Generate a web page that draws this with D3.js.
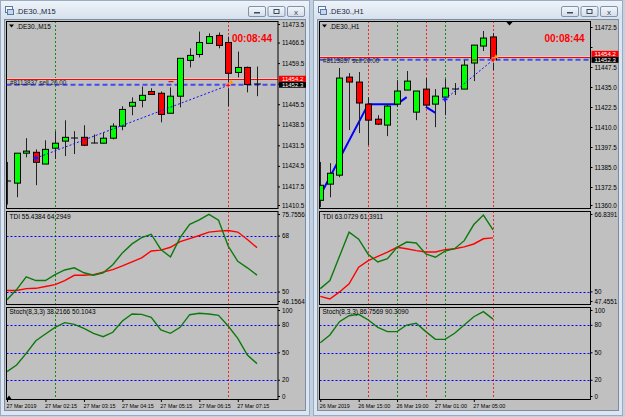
<!DOCTYPE html>
<html>
<head>
<meta charset="utf-8">
<script src="https://cdn.jsdelivr.net/npm/d3@7"></script>
<style>
body { margin: 0; background: #c9d6e6; }
svg { display: block; font-family: "Liberation Sans", Arial, sans-serif; }
</style>
</head>
<body>
<svg id="chart" width="625" height="417"></svg>
<script>
/********** M15 window data **********/
var m15Open  = [11419.5, 11418.8, 11429.0, 11429.3, 11425.3, 11430.7, 11433.1, 11434.1, 11434.4, 11432.4, 11432.4, 11434.1, 11438.2, 11445.0, 11447.0, 11450.0, 11449.4, 11442.6, 11448.4, 11460.6, 11462.6, 11466.4, 11469.1, 11466.7, 11456.5, 11458.2, 11452.5];
var m15High  = [11426.0, 11429.0, 11434.1, 11430.3, 11433.4, 11436.5, 11440.2, 11436.5, 11438.5, 11435.4, 11436.1, 11439.2, 11445.0, 11448.0, 11451.7, 11451.1, 11450.0, 11451.4, 11461.3, 11464.7, 11470.4, 11469.8, 11470.1, 11468.7, 11463.6, 11458.5, 11458.5];
var m15Low   = [11411.5, 11414.0, 11427.6, 11418.1, 11425.3, 11427.0, 11428.0, 11428.7, 11431.4, 11432.4, 11432.4, 11433.7, 11436.8, 11441.9, 11444.6, 11449.0, 11439.5, 11442.6, 11444.6, 11458.2, 11461.6, 11466.4, 11464.7, 11445.0, 11454.8, 11449.7, 11448.4];
var m15Close = [11419.5, 11429.0, 11429.7, 11425.9, 11430.3, 11432.4, 11434.4, 11434.1, 11431.7, 11432.4, 11434.1, 11438.2, 11443.9, 11446.3, 11448.7, 11449.0, 11442.2, 11448.4, 11461.3, 11462.3, 11466.7, 11468.7, 11465.7, 11456.2, 11458.2, 11452.4, 11452.5];
var m15TdiRsi    = [47.5, 50.8, 54.9, 53.7, 53.7, 55.6, 57.1, 57.8, 56.2, 55.4, 56.2, 58.8, 62.6, 65.5, 67.5, 68.6, 63.7, 61.3, 67.5, 71.8, 73.2, 75.0, 73.1, 64.8, 59.9, 57.8, 55.44];
var m15TdiSignal = [50.5, 50.5, 51.1, 51.2, 51.8, 52.4, 53.7, 55.4, 55.4, 55.6, 56.4, 57.2, 58.4, 59.7, 61.0, 63.2, 63.5, 64.4, 66.2, 67.2, 68.2, 69.3, 69.6, 69.8, 69.3, 66.9, 64.29];
var m15Stoch     = [29.4, 36.7, 49.4, 63.2, 70.5, 77.8, 82.9, 81.1, 76.7, 71.3, 67.6, 72.4, 84.7, 92.3, 92.0, 88.7, 74.9, 71.3, 77.8, 91.6, 93.1, 92.3, 90.9, 79.2, 65.8, 47.6, 38.2];
var m15PriceTicks = [11473.5, 11466.5, 11459.5, 11452.5, 11445.5, 11438.5, 11431.5, 11424.5, 11417.5, 11410.5];
var m15TdiTicks   = [75.7556, 68, 50, 46.1564];
var m15TimeIdx    = [0, 4, 8, 12, 16, 20, 24];
var m15TimeText   = ["27 Mar 2019", "27 Mar 02:15", "27 Mar 03:15", "27 Mar 04:15", "27 Mar 05:15", "27 Mar 06:15", "27 Mar 07:15"];
var m15GreenV = [5];
var m15RedV   = [23];
var m15Trade  = [[3, 11427.3], [23, 11452.1]];
var m15SellMark = [17, 11453.4];

/********** H1 window data **********/
var h1Open  = [11364.5, 11374.6, 11380.2, 11441.5, 11438.4, 11424.6, 11415.2, 11411.5, 11424.6, 11433.4, 11419.6, 11434.0, 11424.6, 11429.0, 11434.0, 11434.0, 11450.3, 11460.9, 11466.6];
var h1High  = [11388.5, 11387.7, 11447.2, 11444.0, 11444.7, 11429.0, 11417.7, 11424.6, 11439.6, 11445.3, 11432.8, 11440.9, 11434.0, 11440.3, 11437.8, 11452.2, 11461.5, 11470.3, 11469.1];
var h1Low   = [11360.2, 11366.4, 11378.9, 11408.4, 11406.5, 11399.0, 11411.5, 11404.6, 11422.8, 11433.4, 11414.6, 11422.8, 11410.2, 11417.7, 11430.3, 11434.0, 11439.0, 11457.8, 11445.9];
var h1Close = [11373.9, 11381.4, 11440.9, 11438.4, 11425.3, 11414.6, 11412.1, 11423.4, 11432.8, 11439.0, 11432.8, 11424.0, 11429.6, 11434.6, 11434.0, 11449.0, 11461.5, 11465.9, 11452.3];
var h1TdiRsi    = [50.7, 52.4, 57.5, 62.6, 61.1, 57.9, 56.3, 57.0, 59.4, 60.5, 60.3, 58.0, 57.3, 58.6, 59.1, 60.8, 64.2, 66.2, 63.07];
var h1TdiSignal = [49.05, 48.5, 50.0, 51.7, 55.2, 56.6, 57.5, 58.4, 59.4, 59.1, 58.7, 58.4, 58.4, 58.9, 59.1, 59.5, 60.1, 61.2, 61.39];
var h1Stoch     = [61.0, 69.4, 84.0, 90.5, 92.0, 85.8, 77.8, 73.1, 73.1, 80.3, 82.2, 73.1, 64.7, 64.7, 71.3, 80.3, 89.4, 94.9, 86.76];
var h1PriceTicks = [11472.5, 11460.0, 11447.5, 11435.0, 11422.5, 11410.0, 11397.5, 11385.0, 11372.5, 11360.0];
var h1TdiTicks   = [66.8391, 50, 47.4551];
var h1TimeIdx    = [0, 4, 8, 12, 16];
var h1TimeText   = ["26 Mar 2019", "26 Mar 15:00", "26 Mar 19:00", "27 Mar 01:00", "27 Mar 05:00"];
var h1GreenV = [8, 13];
var h1RedV   = [5, 11, 18];
var h1Trade  = [[13, 11427.6], [18, 11452.2]];
var h1SellMark = [16, 11452.2];
// thick blue section line (broken in two pieces)
var h1BlueIdx = [0, 5, 8, 9, null, 11, 12];
var h1BlueVal = [11367.7, 11424.6, 11424.6, 11429.0, null, 11422.9, 11419.2];

var stochTicks  = [100, 80, 50, 20, 0];
var stochLevels = [80, 50, 20];
var tdiLevels   = [68, 50];
var askPrice = 11454.2, bidPrice = 11452.3;

var svg = d3.select("#chart");
var defs = svg.append("defs");
var grad = defs.append("linearGradient").attr("id", "tbar").attr("x1", 0).attr("y1", 0).attr("x2", 0).attr("y2", 1);
grad.append("stop").attr("offset", "0%").attr("stop-color", "#eef3f9");
grad.append("stop").attr("offset", "100%").attr("stop-color", "#d6e1ee");
var bgrad = defs.append("linearGradient").attr("id", "btn").attr("x1", 0).attr("y1", 0).attr("x2", 0).attr("y2", 1);
bgrad.append("stop").attr("offset", "0%").attr("stop-color", "#f4f7fb");
bgrad.append("stop").attr("offset", "100%").attr("stop-color", "#d3dce8");

svg.append("rect").attr("width", 625).attr("height", 417).attr("fill", "#c3d0e0");

var PANES = {main: [21, 208], tdi: [211, 304], sto: [307, 399]};

function drawWindow(cfg) {
	var g = svg.append("g");
	var wx = cfg.winX, ww = cfg.winW, L = cfg.plotL, R = cfg.plotR;
	var n = cfg.open.length;

	/********** window frame **********/
	g.append("rect").attr("x", wx + 0.5).attr("y", 0.5).attr("width", ww - 1).attr("height", 415)
		.attr("fill", "#dce6f2").attr("stroke", "#9aabc1");
	g.append("rect").attr("x", wx + 1).attr("y", 1).attr("width", ww - 2).attr("height", 18).attr("fill", "url(#tbar)");
	// little window icon
	g.append("rect").attr("x", wx + 5.5).attr("y", 6.5).attr("width", 7).attr("height", 6).attr("fill", "#f5f8fc").attr("stroke", "#5a7aa5");
	g.append("rect").attr("x", wx + 7.5).attr("y", 9.5).attr("width", 6).attr("height", 5).attr("fill", "#c8d8ec").attr("stroke", "#5a7aa5");
	g.append("text").attr("x", wx + 16).attr("y", 14).attr("font-size", 7.5).attr("fill", "#1b2636").text(cfg.title);
	[0, 1, 2].forEach(function (k) {
		var bx = wx + ww - 62 + k * 19.5;
		g.append("rect").attr("x", bx + 0.5).attr("y", 6.5).attr("width", 17).attr("height", 10)
			.attr("rx", 1.5).attr("fill", "url(#btn)").attr("stroke", "#8193ab");
		if (k === 0) g.append("rect").attr("x", bx + 6).attr("y", 12).attr("width", 6).attr("height", 1.5).attr("fill", "#3a4a60");
		if (k === 1) g.append("rect").attr("x", bx + 6.5).attr("y", 9.5).attr("width", 5).attr("height", 4).attr("fill", "none").attr("stroke", "#3a4a60");
		if (k === 2) g.append("text").attr("x", bx + 9).attr("y", 14.5).attr("text-anchor", "middle").attr("font-size", 8).attr("fill", "#3a4a60").text("x");
	});

	// client area
	g.append("rect").attr("x", wx + 4.5).attr("y", 19.5).attr("width", ww - 9).attr("height", 391)
		.attr("fill", "#c0c0c0").attr("stroke", "#7d8ca0");

	/********** scales **********/
	var x = d3.scaleLinear().domain([0, n - 1]).range(cfg.xRange);
	var yMain = d3.scaleLinear().domain(cfg.priceDomain).range([207.5, cfg.priceTopY]);
	var yTdi = d3.scaleLinear().domain(cfg.tdiDomain).range([304, 212]);
	var ySto = d3.scaleLinear().domain([0, 100]).range([398.6, 307]);
	var px = function (i) { return Math.round(x(i)) + 0.5; };

	// panes + clips
	var pane = {};
	Object.keys(PANES).forEach(function (k) {
		var p = PANES[k];
		var id = "clip_" + cfg.key + "_" + k;
		defs.append("clipPath").attr("id", id).append("rect")
			.attr("x", L).attr("y", p[0]).attr("width", R - L).attr("height", p[1] - p[0]);
		pane[k] = g.append("g").attr("clip-path", "url(#" + id + ")");
	});

	// vertical dotted markers across every pane
	Object.keys(PANES).forEach(function (k) {
		var p = PANES[k];
		pane[k].selectAll(null).data(cfg.greenV).enter().append("line")
			.attr("x1", px).attr("x2", px).attr("y1", p[0]).attr("y2", p[1])
			.attr("stroke", "#118a11").attr("stroke-dasharray", "2,2");
		pane[k].selectAll(null).data(cfg.redV).enter().append("line")
			.attr("x1", px).attr("x2", px).attr("y1", p[0]).attr("y2", p[1])
			.attr("stroke", "#f02828").attr("stroke-dasharray", "2,2");
	});

	/********** main price pane **********/
	var mp = pane.main;
	var candles = d3.range(n).map(function (i) {
		return {i: i, o: cfg.open[i], h: cfg.high[i], l: cfg.low[i], c: cfg.close[i]};
	});

	// ask / bid / order lines
	var askY = Math.round(yMain(askPrice));
	mp.append("line").attr("x1", L).attr("x2", R).attr("y1", askY - 0.5).attr("y2", askY - 0.5)
		.attr("stroke", "#f0d0d0").attr("stroke-width", 1);
	mp.append("line").attr("x1", L).attr("x2", R).attr("y1", askY + 0.5).attr("y2", askY + 0.5)
		.attr("stroke", "#ff0000").attr("stroke-width", 1);
	mp.append("line").attr("x1", L).attr("x2", R).attr("y1", yMain(bidPrice)).attr("y2", yMain(bidPrice))
		.attr("stroke", "#4848ee").attr("stroke-width", 2).attr("stroke-dasharray", "5,3");
	mp.append("text").attr("x", L + 3.5).attr("y", askY + 6).attr("font-size", 6.3)
		.attr("fill", "#202020").text("#8113837 sell 20.00");

	if (cfg.blueIdx) {
		var pts = cfg.blueIdx.map(function (d, k) { return [d, cfg.blueVal[k]]; });
		mp.append("path").datum(pts)
			.attr("d", d3.line().defined(function (d) { return d[0] !== null; })
				.x(function (d) { return x(d[0]); }).y(function (d) { return yMain(d[1]); }))
			.attr("fill", "none").attr("stroke", "#0000ff").attr("stroke-width", 2);
	}

	mp.selectAll("line.wick").data(candles).enter().append("line").attr("class", "wick")
		.attr("x1", function (d) { return px(d.i); }).attr("x2", function (d) { return px(d.i); })
		.attr("y1", function (d) { return yMain(d.h); }).attr("y2", function (d) { return yMain(d.l); })
		.attr("stroke", "#222").attr("stroke-width", 1);
	mp.selectAll("rect.body").data(candles).enter().append("rect").attr("class", "body")
		.attr("x", function (d) { return Math.round(x(d.i)) - 3 + 0.5; })
		.attr("width", 6)
		.attr("y", function (d) { return d.o === d.c ? Math.round(yMain(d.o)) : yMain(Math.max(d.o, d.c)); })
		.attr("height", function (d) { return d.o === d.c ? 0.01 : Math.max(1, Math.abs(yMain(d.o) - yMain(d.c))); })
		.attr("fill", function (d) { return d.c > d.o ? "#00ff00" : (d.c < d.o ? "#ff0000" : "#000"); })
		.attr("stroke", "#000").attr("stroke-width", 1);

	// trade line with markers
	mp.append("line")
		.attr("x1", x(cfg.trade[0][0])).attr("y1", yMain(cfg.trade[0][1]))
		.attr("x2", x(cfg.trade[1][0])).attr("y2", yMain(cfg.trade[1][1]))
		.attr("stroke", "#1010ff").attr("stroke-dasharray", "2,2");
	mp.append("path").attr("d", d3.symbol(d3.symbolCross, 14)())
		.attr("transform", "translate(" + x(cfg.trade[0][0]) + "," + yMain(cfg.trade[0][1]) + ")").attr("fill", "#1a1aff");
	mp.append("path").attr("d", d3.symbol(d3.symbolTriangle, 10)())
		.attr("transform", "translate(" + (x(cfg.trade[1][0]) + 3) + "," + (yMain(cfg.trade[1][1]) - 3) + ")").attr("fill", "#ff9a00");
	mp.append("path").attr("d", d3.symbol(d3.symbolCross, 14)())
		.attr("transform", "translate(" + x(cfg.trade[1][0]) + "," + yMain(cfg.trade[1][1]) + ")").attr("fill", "#ff0000").attr("stroke", "#fff").attr("stroke-width", 0.4);
	mp.append("rect").attr("x", x(cfg.sellMark[0]) - 2).attr("y", yMain(cfg.sellMark[1]) - 0.5).attr("width", 5).attr("height", 1.2).attr("fill", "#ff0000");

	// countdown
	mp.append("text").attr("x", R - 6).attr("y", 42).attr("text-anchor", "end")
		.attr("font-size", 10).attr("font-weight", "bold").attr("fill", "#ff0000").text("00:08:44");

	// chart header
	g.append("path").attr("d", "M" + (L + 2.5) + ",24.5 h5 l-2.5,3 z").attr("fill", "#000");
	g.append("text").attr("x", L + 10).attr("y", 29).attr("font-size", 6.5).attr("fill", "#000").text(cfg.header);

	/********** TDI pane **********/
	var tp = pane.tdi;
	tp.selectAll(null).data(tdiLevels).enter().append("line")
		.attr("x1", L).attr("x2", R).attr("y1", function (d) { return Math.round(yTdi(d)) + 0.5; }).attr("y2", function (d) { return Math.round(yTdi(d)) + 0.5; })
		.attr("stroke", "#0000ff").attr("stroke-dasharray", "2,2");
	var tdiLine = d3.line().x(function (d, i) { return x(i); }).y(function (d) { return yTdi(d); });
	tp.append("path").datum(cfg.tdiSignal).attr("d", tdiLine).attr("fill", "none").attr("stroke", "#ff0000").attr("stroke-width", 1.4);
	tp.append("path").datum(cfg.tdiRsi).attr("d", tdiLine).attr("fill", "none").attr("stroke", "#0b7a0b").attr("stroke-width", 1.4);
	g.append("text").attr("x", L + 3).attr("y", 219).attr("font-size", 6.5).attr("fill", "#000").text(cfg.tdiLabel);

	/********** Stochastic pane **********/
	var sp = pane.sto;
	sp.selectAll(null).data(stochLevels).enter().append("line")
		.attr("x1", L).attr("x2", R).attr("y1", function (d) { return Math.round(ySto(d)) + 0.5; }).attr("y2", function (d) { return Math.round(ySto(d)) + 0.5; })
		.attr("stroke", "#0000ff").attr("stroke-dasharray", "2,2");
	sp.append("path").datum(cfg.stoch)
		.attr("d", d3.line().x(function (d, i) { return x(i); }).y(function (d) { return ySto(d); }))
		.attr("fill", "none").attr("stroke", "#0b7a0b").attr("stroke-width", 1.4);
	g.append("text").attr("x", L + 3).attr("y", 314).attr("font-size", 6.5).attr("fill", "#000").text(cfg.stochLabel);

	// pane borders
	Object.keys(PANES).forEach(function (k) {
		var p = PANES[k];
		g.append("rect").attr("x", L).attr("y", p[0] + 0.5).attr("width", R - L).attr("height", p[1] - p[0])
			.attr("fill", "none").attr("stroke", "#000");
	});

	/********** axes **********/
	// labels that would sit under the current price boxes are skipped
	var boxBid = yMain(bidPrice);
	var boxAsk = Math.min(yMain(askPrice), boxBid - 6);
	function rightAxis(scale, ticks, p, fmt, isMain) {
		var ax = g.append("g").attr("transform", "translate(" + R + ",0)")
			.call(d3.axisRight(scale).tickValues(ticks).tickSize(2).tickPadding(2).tickFormat(fmt));
		ax.select(".domain").remove();
		ax.attr("font-family", null).attr("font-size", 6.3);
		ax.selectAll(".tick").attr("transform", function (d) {
			var yy = Math.max(p[0] + 3.5, Math.min(p[1] - 2.5, scale(d)));
			return "translate(0," + yy + ")";
		});
		if (isMain) {
			ax.selectAll(".tick text").filter(function (d) {
				var yy = scale(d);
				return yy > boxAsk - 7 && yy < boxBid + 7;
			}).remove();
		}
		ax.selectAll("text").attr("fill", "#000");
		ax.selectAll("line").attr("stroke", "#000");
	}
	rightAxis(yMain, cfg.priceTicks, PANES.main, d3.format(".1f"), true);
	rightAxis(yTdi, cfg.tdiTicks, PANES.tdi, function (d) { return String(d); });
	rightAxis(ySto, stochTicks, PANES.sto, function (d) { return String(d); });

	// current price boxes (ask pushed up so the two never overlap)
	[[askPrice, boxAsk, "#ff0000"], [bidPrice, boxBid, "#000000"]].forEach(function (b) {
		g.append("rect").attr("x", R + 1).attr("y", b[1] - 3).attr("width", 27).attr("height", 6).attr("fill", b[2]);
		g.append("text").attr("x", R + 4).attr("y", b[1]).attr("dy", "0.33em").attr("font-size", 6)
			.attr("fill", "#fff").text(d3.format(".1f")(b[0]));
	});

	var bx = g.append("g").attr("transform", "translate(0," + PANES.sto[1] + ")")
		.call(d3.axisBottom(x).tickValues(cfg.timeIdx).tickSize(3).tickPadding(2)
			.tickFormat(function (d, i) { return cfg.timeText[i]; }));
	bx.select(".domain").remove();
	bx.attr("font-family", null).attr("font-size", 6);
	bx.selectAll("text").attr("text-anchor", "start").attr("x", -1).attr("fill", "#000")
		.attr("textLength", function (d, i) { return i === 0 ? 30 : 32; })
		.attr("lengthAdjust", "spacingAndGlyphs");
	bx.selectAll("line").attr("stroke", "#000");

	// shift markers
	if (cfg.topShift) {
		g.append("path").attr("d", "M" + (cfg.topShift - 3) + ",21.5 h7 l-3.5,4 z").attr("fill", "#000");
	} else {
		g.append("path").attr("d", "M" + (L) + ",399 l2.5,-3.5 l2.5,3.5 z").attr("fill", "#000");
	}
}

drawWindow({
	key: "m15", winX: 0, winW: 310, plotL: 6.5, plotR: 278,
	title: ".DE30.,M15", header: ".DE30.,M15",
	xRange: [7, 257], priceDomain: [11410.5, 11473.5], priceTopY: 22.5,
	tdiDomain: [46.1564, 75.7556],
	open: m15Open, high: m15High, low: m15Low, close: m15Close,
	tdiRsi: m15TdiRsi, tdiSignal: m15TdiSignal, stoch: m15Stoch,
	priceTicks: m15PriceTicks, tdiTicks: m15TdiTicks,
	timeIdx: m15TimeIdx, timeText: m15TimeText,
	greenV: m15GreenV, redV: m15RedV, trade: m15Trade, sellMark: m15SellMark,
	tdiLabel: "TDI 55.4384 64.2949", stochLabel: "Stoch(8,3,3) 38.2166 50.1043"
});

drawWindow({
	key: "h1", winX: 313, winW: 310, plotL: 319.5, plotR: 590.5,
	title: ".DE30.,H1", header: ".DE30.,H1",
	xRange: [320.3, 493], priceDomain: [11360, 11472.5], priceTopY: 27.5,
	tdiDomain: [47.4551, 66.8391],
	open: h1Open, high: h1High, low: h1Low, close: h1Close,
	tdiRsi: h1TdiRsi, tdiSignal: h1TdiSignal, stoch: h1Stoch,
	priceTicks: h1PriceTicks, tdiTicks: h1TdiTicks,
	timeIdx: h1TimeIdx, timeText: h1TimeText,
	greenV: h1GreenV, redV: h1RedV, trade: h1Trade, sellMark: h1SellMark,
	blueIdx: h1BlueIdx, blueVal: h1BlueVal, topShift: 509,
	tdiLabel: "TDI 63.0729 61.3911", stochLabel: "Stoch(8,3,3) 86.7569 90.3090"
});
</script>
</body>
</html>
